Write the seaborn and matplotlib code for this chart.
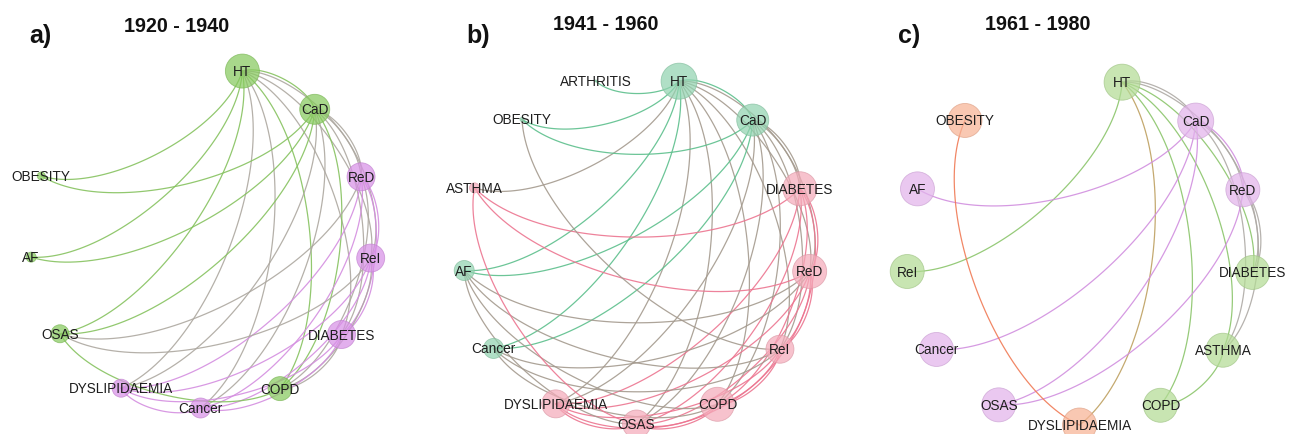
import numpy as np
import matplotlib
matplotlib.use("Agg")
import matplotlib.pyplot as plt
import seaborn as sns
import pandas as pd

# ------------------------------------------------------------------ data
panel_letters = ["a)", "b)", "c)"]
panel_titles = ["1920 - 1940", "1941 - 1960", "1961 - 1980"]

# nodes in circular-layout order (slot 0 = top, clockwise)
nodes_a = ["HT", "CaD", "ReD", "ReI", "DIABETES", "COPD", "Cancer",
           "DYSLIPIDAEMIA", "OSAS", "AF", "OBESITY"]
class_a = ["g", "g", "p", "p", "p", "g", "p", "p", "g", "g", "g"]
weight_a = [17, 15, 14, 14, 14, 12, 10, 9, 9, 5, 4]
edges_a = [
    ("HT", "CaD"), ("HT", "ReD"), ("HT", "ReI"), ("HT", "DIABETES"), ("HT", "COPD"),
    ("HT", "Cancer"), ("HT", "DYSLIPIDAEMIA"), ("HT", "OSAS"), ("HT", "AF"), ("HT", "OBESITY"),
    ("CaD", "ReD"), ("CaD", "ReI"), ("CaD", "DIABETES"), ("CaD", "COPD"), ("CaD", "Cancer"),
    ("CaD", "DYSLIPIDAEMIA"), ("CaD", "OSAS"), ("CaD", "AF"), ("CaD", "OBESITY"),
    ("ReD", "ReI"), ("ReD", "DIABETES"), ("ReD", "COPD"), ("ReD", "Cancer"),
    ("ReD", "DYSLIPIDAEMIA"), ("ReD", "OSAS"),
    ("ReI", "DIABETES"), ("ReI", "COPD"), ("ReI", "Cancer"), ("ReI", "DYSLIPIDAEMIA"), ("ReI", "OSAS"),
    ("DIABETES", "COPD"), ("DIABETES", "Cancer"), ("DIABETES", "DYSLIPIDAEMIA"),
    ("COPD", "OSAS"), ("Cancer", "DYSLIPIDAEMIA"),
]

nodes_b = ["HT", "CaD", "DIABETES", "ReD", "ReI", "COPD", "OSAS", "DYSLIPIDAEMIA",
           "Cancer", "AF", "ASTHMA", "OBESITY", "ARTHRITIS"]
class_b = ["g", "g", "p", "p", "p", "p", "p", "p", "g", "g", "p", "g", "g"]
weight_b = [18, 16, 17, 17, 14, 17, 14, 14, 10, 10, 5, 2, 1]
edges_b = [
    ("HT", "CaD"), ("HT", "DIABETES"), ("HT", "ReD"), ("HT", "ReI"), ("HT", "COPD"),
    ("HT", "OSAS"), ("HT", "DYSLIPIDAEMIA"), ("HT", "Cancer"), ("HT", "AF"),
    ("HT", "ASTHMA"), ("HT", "OBESITY"), ("HT", "ARTHRITIS"),
    ("CaD", "DIABETES"), ("CaD", "ReD"), ("CaD", "ReI"), ("CaD", "COPD"), ("CaD", "OSAS"),
    ("CaD", "DYSLIPIDAEMIA"), ("CaD", "Cancer"), ("CaD", "AF"), ("CaD", "OBESITY"),
    ("DIABETES", "ReD"), ("DIABETES", "ReI"), ("DIABETES", "COPD"), ("DIABETES", "OSAS"),
    ("DIABETES", "DYSLIPIDAEMIA"), ("DIABETES", "ASTHMA"),
    ("ReD", "ReI"), ("ReD", "COPD"), ("ReD", "OSAS"), ("ReD", "DYSLIPIDAEMIA"),
    ("ReD", "Cancer"), ("ReD", "AF"), ("ReD", "ASTHMA"),
    ("ReI", "COPD"), ("ReI", "OSAS"), ("ReI", "DYSLIPIDAEMIA"), ("ReI", "Cancer"),
    ("ReI", "AF"), ("ReI", "OBESITY"),
    ("COPD", "OSAS"), ("COPD", "DYSLIPIDAEMIA"), ("COPD", "Cancer"), ("COPD", "AF"),
    ("OSAS", "DYSLIPIDAEMIA"), ("OSAS", "AF"), ("OSAS", "ASTHMA"),
]

nodes_c = ["HT", "CaD", "ReD", "DIABETES", "ASTHMA", "COPD", "DYSLIPIDAEMIA", "OSAS",
           "Cancer", "ReI", "AF", "OBESITY"]
class_c = ["g", "v", "v", "g", "g", "g", "o", "v", "v", "g", "v", "o"]
weight_c = [18, 18, 17, 17, 17, 17, 17, 17, 17, 17, 17, 17]
edges_c = [
    ("HT", "CaD"), ("HT", "ReD"), ("HT", "DIABETES"), ("HT", "ASTHMA"), ("HT", "COPD"),
    ("HT", "DYSLIPIDAEMIA"), ("HT", "ReI"),
    ("CaD", "ReD"), ("CaD", "DIABETES"), ("CaD", "ASTHMA"), ("CaD", "OSAS"),
    ("CaD", "Cancer"), ("CaD", "AF"),
    ("ReD", "DIABETES"), ("ReD", "ASTHMA"), ("ReD", "OSAS"),
    ("ASTHMA", "COPD"),
    ("DYSLIPIDAEMIA", "OBESITY"),
]

# ------------------------------------------------------------------ styles
fill_a = {"g": "#87ca5e", "p": "#d890e7"}
line_a = {"g": "#86c25f", "p": "#d48ee0"}
fill_b = {"g": "#92d3b0", "p": "#f4abba"}
line_b = {"g": "#5cbf8c", "p": "#ec7590"}
fill_c = {"g": "#b3db95", "v": "#e2b3eb", "o": "#f7b395"}
line_c = {"g": "#8bc56b", "v": "#d18fdf", "o": "#f07a55"}

panels = [
    dict(nodes=nodes_a, cls=class_a, w=weight_a, edges=edges_a, fill=fill_a, line=line_a,
         x0=0, width=432, geo=(201, 238, 171), letter=(40, 36), title=(177, 26)),
    dict(nodes=nodes_b, cls=class_b, w=weight_b, edges=edges_b, fill=fill_b, line=line_b,
         x0=432, width=432, geo=(205, 251, 174), letter=(46, 36), title=(174, 25)),
    dict(nodes=nodes_c, cls=class_c, w=weight_c, edges=edges_c, fill=fill_c, line=line_c,
         x0=864, width=433, geo=(216, 252, 174), letter=(45, 36), title=(174, 25)),
]

N_SLOTS = 13
START_DEG = 76.0

sns.set_theme(style="white")
plt.rcParams["font.family"] = ["Liberation Sans", "DejaVu Sans"]

W, H = 1297, 435
fig = plt.figure(figsize=(W / 100, H / 100), dpi=100)


def mix(c1, c2):
    a = np.array(matplotlib.colors.to_rgb(c1))
    b = np.array(matplotlib.colors.to_rgb(c2))
    return tuple((a + b) / 2)


def darker(c, f=0.9):
    a = np.array(matplotlib.colors.to_rgb(c))
    return tuple(a * f)


def bezier(p0, p3, curv=0.2, n=60):
    d = p3 - p0
    L = np.hypot(*d)
    u = d / L
    f = curv * L
    nvec = np.array([u[1], -u[0]]) * f  # screen coords (y down)
    p1 = p0 + u * f + nvec
    p2 = p3 - u * f + nvec
    t = np.linspace(0, 1, n)[:, None]
    return ((1 - t) ** 3) * p0 + 3 * ((1 - t) ** 2) * t * p1 + 3 * (1 - t) * t ** 2 * p2 + t ** 3 * p3


for i, P in enumerate(panels):
    ax = fig.add_axes([P["x0"] / W, 0, P["width"] / W, 1])
    cx, cy, R = P["geo"]
    slots = np.arange(len(P["nodes"]))
    th = np.deg2rad(START_DEG - slots * 360.0 / N_SLOTS)
    df = pd.DataFrame({
        "name": P["nodes"], "cls": P["cls"], "w": P["w"],
        "x": cx + R * np.cos(th), "y": cy - R * np.sin(th),
    })
    pos = {r.name: np.array([r.x, r.y]) for r in df.itertuples(index=False)}
    cmap = dict(zip(df["name"], df["cls"]))

    # edges
    for s, t in P["edges"]:
        pts = bezier(pos[s], pos[t])
        col = mix(P["line"][cmap[s]], P["line"][cmap[t]])
        ax.plot(pts[:, 0], pts[:, 1], color=col, lw=0.9, alpha=0.9, zorder=1,
                solid_capstyle="round")

    # nodes
    for k, sub in df.groupby("cls"):
        sns.scatterplot(data=sub, x="x", y="y", s=(1.44 * sub["w"].to_numpy()) ** 2,
                        color=P["fill"][k], edgecolor=darker(P["fill"][k]), linewidth=0.6,
                        alpha=0.72, legend=False, ax=ax, zorder=3)
    ax.set_xlim(0, P["width"])
    ax.set_ylim(H, 0)
    ax.set_axis_off()

    for r in df.itertuples(index=False):
        ax.text(r.x, r.y, r.name, ha="center", va="center", fontsize=9.8,
                color="#1e1e1e", zorder=5)

    ax.text(*P["letter"], panel_letters[i], ha="center", va="center", fontsize=18,
            fontweight="bold", color="#111111")
    ax.text(*P["title"], panel_titles[i], ha="center", va="center", fontsize=14.2,
            fontweight="bold", color="#111111")

fig.savefig("out.png", dpi=100, facecolor="white")
